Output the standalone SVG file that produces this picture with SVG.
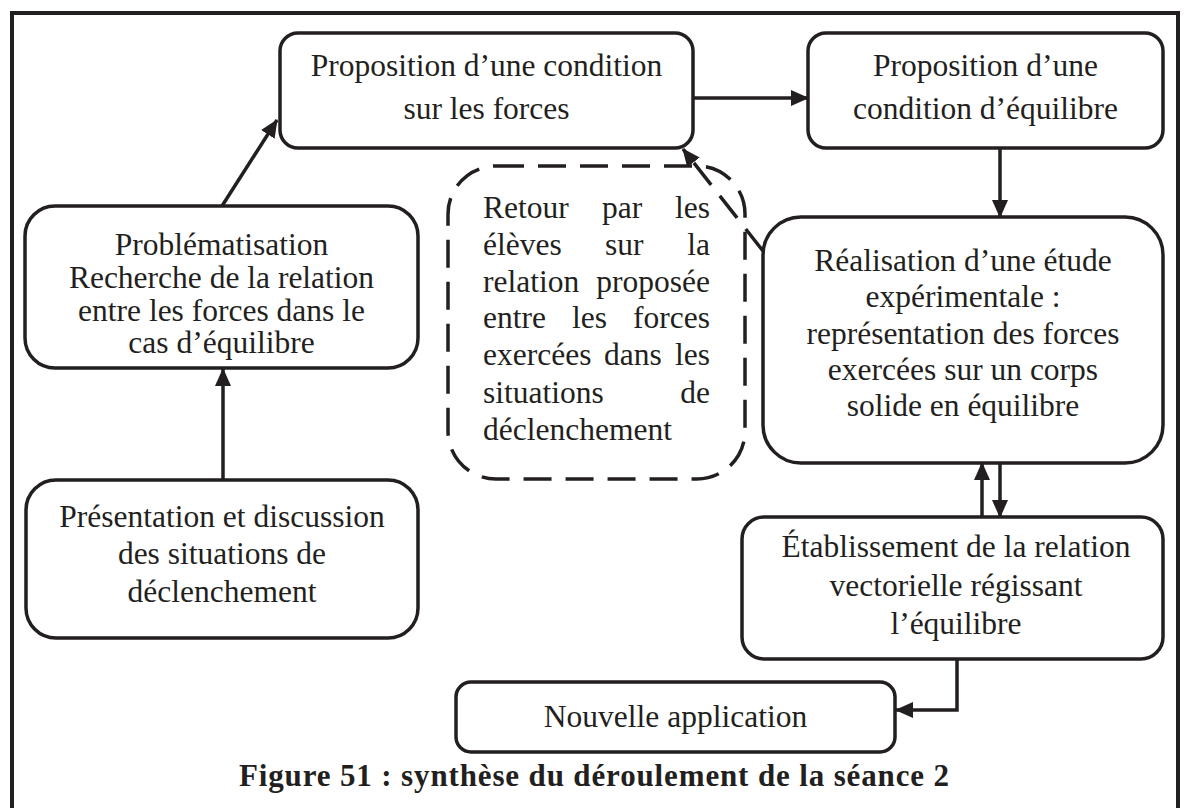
<svg xmlns="http://www.w3.org/2000/svg" width="1190" height="808" viewBox="0 0 1190 808">
<style>
.box{fill:#fff;stroke:#231f20;stroke-width:3.5}
.dash{fill:none;stroke:#231f20;stroke-width:3.5;stroke-dasharray:28 14}
.t{font-family:"Liberation Serif","Times New Roman",serif;font-size:31.5px;fill:#231f20}
.c{text-anchor:middle}
.e{text-anchor:end}
.cap{font-family:"Liberation Serif","Times New Roman",serif;font-size:31px;font-weight:bold;fill:#231f20;text-anchor:middle}
.ln{fill:none;stroke:#231f20;stroke-width:3.5}
</style>
<defs>
<marker id="ah" markerUnits="userSpaceOnUse" markerWidth="18" markerHeight="16" refX="17" refY="8" orient="auto">
<path d="M0,0 L18,8 L0,16 Z" fill="#231f20"/>
</marker>
</defs>
<rect x="0" y="0" width="1190" height="808" fill="#fff"/>
<rect x="12" y="13" width="1166" height="810" fill="none" stroke="#231f20" stroke-width="4"/>

<g id="connectors">
<line class="ln" x1="223" y1="480" x2="223" y2="369" marker-end="url(#ah)"/>
<line class="ln" x1="222" y1="206" x2="277" y2="120" marker-end="url(#ah)"/>
<line class="ln" x1="693" y1="98" x2="808" y2="98" marker-end="url(#ah)"/>
<line class="ln" x1="1000" y1="148" x2="1000" y2="217" marker-end="url(#ah)"/>
<line class="ln" x1="1000" y1="463" x2="1000" y2="517" marker-end="url(#ah)"/>
<line class="ln" x1="982" y1="517" x2="982" y2="463" marker-end="url(#ah)"/>
<polyline class="ln" points="957,659 957,710 896,710" marker-end="url(#ah)"/>
<line class="dash" x1="763" y1="251" x2="683" y2="149" stroke-dasharray="22 12" marker-end="url(#ah)"/>
</g>

<g id="n1">
<rect class="box" x="280" y="33" width="413" height="115" rx="18"/>
<text class="t c" x="486.5" y="76">Proposition d’une condition</text>
<text class="t c" x="486.5" y="119">sur les forces</text>
</g>

<g id="n2">
<rect class="box" x="808" y="33" width="355" height="115" rx="18"/>
<text class="t c" x="985.5" y="76">Proposition d’une</text>
<text class="t c" x="985.5" y="119">condition d’équilibre</text>
</g>

<g id="n3">
<rect class="box" x="25" y="206" width="393" height="162" rx="30"/>
<text class="t c" x="221.5" y="255">Problématisation</text>
<text class="t c" x="221.5" y="288">Recherche de la relation</text>
<text class="t c" x="221.5" y="321">entre les forces dans le</text>
<text class="t c" x="221.5" y="353">cas d’équilibre</text>
</g>

<g id="n4">
<rect class="box" x="26" y="480" width="392" height="158" rx="30"/>
<text class="t c" x="222" y="527">Présentation et discussion</text>
<text class="t c" x="222" y="564">des situations de</text>
<text class="t c" x="222" y="602">déclenchement</text>
</g>

<g id="n5">
<rect class="dash" x="448" y="166" width="297" height="313" rx="48"/>
<text class="t" x="483" y="218">Retour</text>
<text class="t" x="602" y="218">par</text>
<text class="t e" x="710" y="218">les</text>
<text class="t" x="483" y="255">élèves</text>
<text class="t" x="605" y="255">sur</text>
<text class="t e" x="710" y="255">la</text>
<text class="t" x="483" y="292">relation</text>
<text class="t e" x="710" y="292">proposée</text>
<text class="t" x="483" y="328">entre</text>
<text class="t" x="572" y="328">les</text>
<text class="t e" x="710" y="328">forces</text>
<text class="t" x="483" y="365">exercées</text>
<text class="t" x="604" y="365">dans</text>
<text class="t e" x="710" y="365">les</text>
<text class="t" x="483" y="403">situations</text>
<text class="t e" x="710" y="403">de</text>
<text class="t" x="483" y="440">déclenchement</text>
</g>

<g id="n6">
<rect class="box" x="763" y="217" width="400" height="246" rx="38"/>
<text class="t c" x="963" y="271">Réalisation d’une étude</text>
<text class="t c" x="963" y="307">expérimentale :</text>
<text class="t c" x="963" y="344">représentation des forces</text>
<text class="t c" x="963" y="380">exercées sur un corps</text>
<text class="t c" x="963" y="416">solide en équilibre</text>
</g>

<g id="n7">
<rect class="box" x="742" y="517" width="421" height="142" rx="22"/>
<text class="t c" x="956" y="557">Établissement de la relation</text>
<text class="t c" x="956" y="596">vectorielle régissant</text>
<text class="t c" x="956" y="634">l’équilibre</text>
</g>

<g id="n8">
<rect class="box" x="456" y="682" width="439" height="70" rx="15"/>
<text class="t c" x="675.5" y="727">Nouvelle application</text>
</g>

<text class="cap" x="594" y="786" textLength="710" lengthAdjust="spacing">Figure 51 : synthèse du déroulement de la séance 2</text>
</svg>
